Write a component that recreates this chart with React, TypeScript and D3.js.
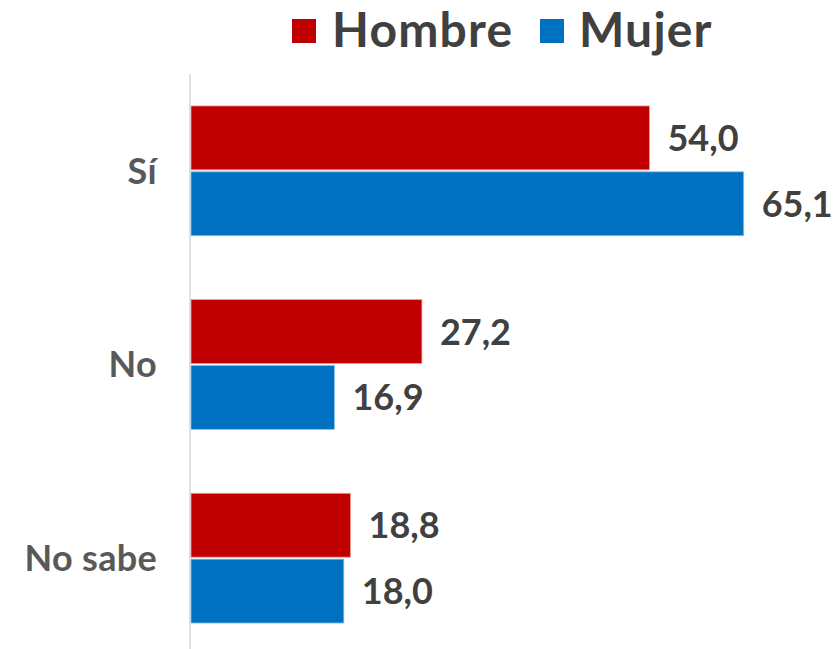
import React from "react";
import * as d3 from "d3";

const categories = ["Sí", "No", "No sabe"];
const seriesNames = ["Hombre", "Mujer"];
const hombre = [54.0, 27.2, 18.8];
const mujer = [65.1, 16.9, 18.0];
const colors = ["#C00000", "#0070C0"];

const W = 837;
const H = 649;

export default function App() {
  const x0 = 191;
  const x = d3.scaleLinear().domain([0, 10]).range([x0, x0 + 84.9]);
  const y = d3.scaleBand().domain(categories).range([74, 655]).paddingInner(0.33).paddingOuter(0.165);
  const inner = d3.scaleBand().domain(seriesNames).range([0, y.bandwidth()]).paddingInner(0.03);
  const series = [hombre, mujer];
  const fmt = (v: number) => d3.format(".1f")(v).replace(".", ",");
  const font = "'Lato', 'Open Sans', sans-serif";

  return (
    <svg width={W} height={H} style={{ position: "absolute", left: 0, top: 0 }}>
      <rect width={W} height={H} fill="#fff" />
      {/* legend */}
      <g fontFamily={font} fontWeight={700} fontSize={48} fill="#404040" letterSpacing={1.2}>
        <rect x={292} y={19} width={24} height={24} fill={colors[0]} />
        <text x={332} y={47}>{seriesNames[0]}</text>
        <rect x={540} y={19} width={24} height={24} fill={colors[1]} />
        <text x={579} y={47}>{seriesNames[1]}</text>
      </g>
      <line x1={x0 - 1} x2={x0 - 1} y1={74} y2={H} stroke="#DDE2EA" strokeWidth={2} />
      {categories.map((c, i) => (
        <g key={c}>
          <text
            x={157}
            y={(y(c) ?? 0) + y.bandwidth() / 2}
            dy="0.36em"
            textAnchor="end"
            fontFamily={font}
            fontWeight={700}
            fontSize={36}
            letterSpacing={0.3}
            fill="#595959"
          >
            {c}
          </text>
          {series.map((s, j) => {
            const yy = (y(c) ?? 0) + (inner(seriesNames[j]) ?? 0);
            return (
              <g key={j}>
                <rect
                  x={x0}
                  y={yy}
                  width={x(s[i]) - x0}
                  height={inner.bandwidth()}
                  fill={colors[j]}
                  stroke={j === 0 ? "#E8A0A0" : "#8EC0E8"}
                  strokeWidth={0.8}
                />
                <text
                  x={x(s[i]) + 18}
                  y={yy + inner.bandwidth() / 2}
                  dy="0.36em"
                  fontFamily={font}
                  fontWeight={700}
                  fontSize={36}
                  fill="#404040"
                >
                  {fmt(s[i])}
                </text>
              </g>
            );
          })}
        </g>
      ))}
    </svg>
  );
}
